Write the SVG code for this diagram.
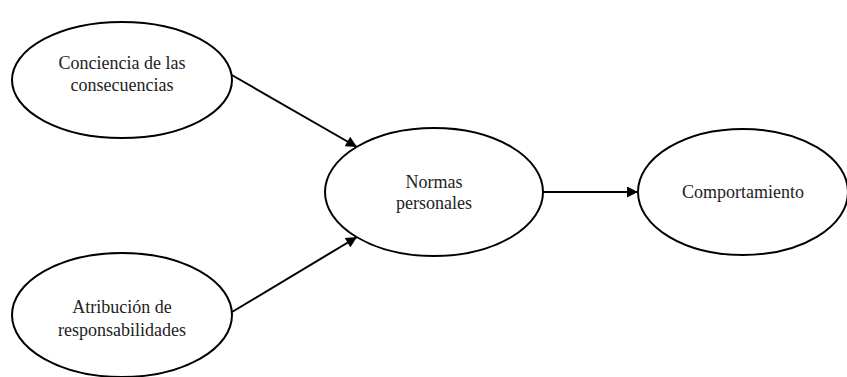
<svg xmlns="http://www.w3.org/2000/svg" width="847" height="377" viewBox="0 0 847 377">
  <style>
    .node ellipse { fill: #ffffff; stroke: #000000; stroke-width: 2; }
    .node text { font-size: 18px; fill: #222222; text-anchor: middle; }
    .edge { stroke: #000000; stroke-width: 2; fill: none; marker-end: url(#arrow); }
  </style>
  <defs>
    <marker id="arrow" viewBox="0 0 10 10" refX="10" refY="5" markerWidth="6" markerHeight="5.5" markerUnits="strokeWidth" orient="auto">
      <path d="M0,0 L10,5 L0,10 z" fill="#000000"/>
    </marker>
  </defs>
  <rect width="847" height="377" fill="#ffffff"/>

  <g id="connectors">
    <line class="edge" x1="230" y1="74" x2="357" y2="147"/>
    <line class="edge" x1="232" y1="312" x2="357" y2="237"/>
    <line class="edge" x1="543" y1="192" x2="638" y2="192"/>
  </g>

  <g font-family="'Liberation Serif', 'Times New Roman', 'DejaVu Serif', serif">
    <g id="node-conciencia" class="node">
      <ellipse cx="122" cy="80" rx="110" ry="58"/>
      <text x="122" y="69">Conciencia de las</text>
      <text x="122" y="91">consecuencias</text>
    </g>

    <g id="node-atribucion" class="node">
      <ellipse cx="122" cy="315" rx="110" ry="62"/>
      <text x="122" y="313">Atribución de</text>
      <text x="122" y="336">responsabilidades</text>
    </g>

    <g id="node-normas" class="node">
      <ellipse cx="434" cy="192" rx="109" ry="64"/>
      <text x="434" y="188">Normas</text>
      <text x="434" y="209">personales</text>
    </g>

    <g id="node-comportamiento" class="node">
      <ellipse cx="743" cy="192" rx="105" ry="63"/>
      <text x="743" y="198">Comportamiento</text>
    </g>
  </g>
</svg>
